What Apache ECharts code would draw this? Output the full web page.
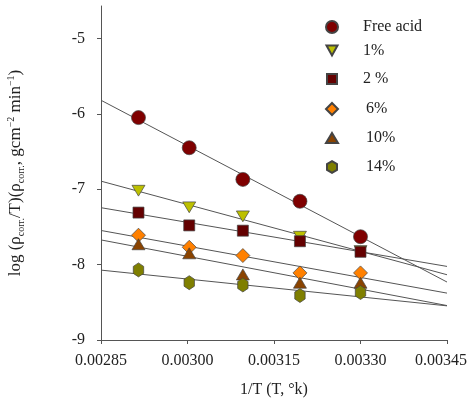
<!DOCTYPE html>
<html><head><meta charset="utf-8">
<script src="https://cdn.jsdelivr.net/npm/echarts@6/dist/echarts.min.js"></script>
<style>html,body{margin:0;padding:0;background:#fff}#c{width:471px;height:400px}</style>
</head><body><div id="c"></div>
<script>
const invT = [0.002915, 0.003003, 0.003096, 0.003195, 0.0033];
const freeAcid = [-6.05, -6.45, -6.87, -7.16, -7.63];
const pct1 = [-7.02, -7.24, -7.36, -7.63, -7.82];
const pct2 = [-7.31, -7.48, -7.55, -7.69, -7.83];
const pct6 = [-7.61, -7.77, -7.88, -8.11, -8.11];
const pct10 = [-7.73, -7.85, -8.13, -8.24, -8.24];
const pct14 = [-8.07, -8.24, -8.27, -8.41, -8.37];
const xTicks = [0.00285, 0.00300, 0.00315, 0.00330, 0.00345];
const yTicks = [-9, -8, -7, -6, -5];
const names = ['Free acid', '1%', '2 %', '6%', '10%', '14%'];
const values = [freeAcid, pct1, pct2, pct6, pct10, pct14];

const colors = ['#7f0000', '#bcc000', '#640000', '#ff8000', '#8a4300', '#7f7f00'];
const symbols = ['circle', 'path://M-1,-0.9L1,-0.9L0,0.9Z', 'rect', 'diamond', 'triangle',
  'path://M0,-1L0.866,-0.5L0.866,0.5L0,1L-0.866,0.5L-0.866,-0.5Z'];
const sizes = [14, [13, 12], 11, 14, [13, 11], [12, 14]];
const legendSizes = [[12, 12], [11, 11], [10, 10], [12, 12], [12, 10], [10, 12]];
const legendTops = [19, 42, 70, 101, 129, 159];
const legendTextPad = [20, 20, 20, 23, 23, 23];

function fit(xs, ys) {
  const n = xs.length;
  const mx = xs.reduce((a, b) => a + b, 0) / n;
  const my = ys.reduce((a, b) => a + b, 0) / n;
  let sxy = 0, sxx = 0;
  for (let i = 0; i < n; i++) { sxy += (xs[i] - mx) * (ys[i] - my); sxx += (xs[i] - mx) ** 2; }
  const b = sxy / sxx;
  return x => my + b * (x - mx);
}

const series = [];
values.forEach((v, i) => {
  const f = fit(invT, v);
  const x0 = xTicks[0], x1 = xTicks[xTicks.length - 1];
  series.push({
    name: names[i] + ' fit', type: 'line', silent: true, symbol: 'none', z: 1,
    lineStyle: { color: '#555', width: 1 },
    data: [[x0, f(x0)], [x1, f(x1)]]
  });
});
values.forEach((v, i) => {
  series.push({
    name: names[i], type: 'scatter', z: 3,
    symbol: symbols[i], symbolSize: sizes[i], symbolKeepAspect: true,
    itemStyle: { color: colors[i], borderColor: '#444', borderWidth: 0.7, opacity: 1 },
    data: invT.map((x, k) => [x, v[k]])
  });
});

const font = 'Liberation Serif';
const legends = names.map((n, i) => ({
  data: [n], orient: 'vertical', left: 331 - legendSizes[i][0] / 2, top: legendTops[i] + (12 - legendSizes[i][1]) / 2,
  itemWidth: legendSizes[i][0], itemHeight: legendSizes[i][1], itemGap: 0, padding: 0, selectedMode: false,
  textStyle: { fontFamily: font, fontSize: 16, color: '#222', padding: [0, 0, 0, legendTextPad[i] + (12 - legendSizes[i][0]) / 2] }
}));

const lastX = xTicks[xTicks.length - 1];
const chart = echarts.init(document.getElementById('c'), null, { renderer: 'canvas' });
chart.setOption({
  animation: false,
  backgroundColor: '#fff',
  grid: { left: 101, right: 24, top: 6, bottom: 60, containLabel: false, outerBoundsMode: 'none' },
  legend: legends,
  xAxis: {
    type: 'value', min: xTicks[0], max: lastX, interval: 0.00015,
    splitLine: { show: false },
    axisLine: { lineStyle: { color: '#555', width: 1 } },
    axisTick: { show: true, length: 4, inside: false, customValues: xTicks, lineStyle: { color: '#555' } },
    axisLabel: {
      customValues: xTicks, hideOverlap: false,
      formatter: v => Math.abs(v - lastX) < 1e-9 ? '{last|' + v.toFixed(5) + '}' : v.toFixed(5),
      fontFamily: font, fontSize: 16, color: '#222', margin: 13,
      rich: { last: { fontFamily: font, fontSize: 16, color: '#222', padding: [0, 12, 0, 0] } }
    },
    name: '1/T (T, °k)', nameLocation: 'middle', nameGap: 42,
    nameTextStyle: { fontFamily: font, fontSize: 16, color: '#222' }
  },
  yAxis: {
    type: 'value', min: -9, max: -4.57, interval: 1,
    splitLine: { show: false },
    axisLine: { show: true, lineStyle: { color: '#555', width: 1 } },
    axisTick: { show: true, length: 4, customValues: yTicks, lineStyle: { color: '#555' } },
    axisLabel: { customValues: yTicks, fontFamily: font, fontSize: 16, color: '#222', margin: 16 },
    name: 'log (ρ{sub|corr.}/T)(ρ{sub|corr.}, gcm{sup|−2} min{sup|−1})',
    nameLocation: 'middle', nameRotate: 90, nameGap: 75,
    nameTextStyle: {
      fontFamily: font, fontSize: 17, color: '#222',
      rich: {
        sub: { fontFamily: font, fontSize: 10, color: '#222', verticalAlign: 'bottom', lineHeight: 20 },
        sup: { fontFamily: font, fontSize: 10, color: '#222', verticalAlign: 'top', lineHeight: 20 }
      }
    }
  },
  series: series
});
</script></body></html>
